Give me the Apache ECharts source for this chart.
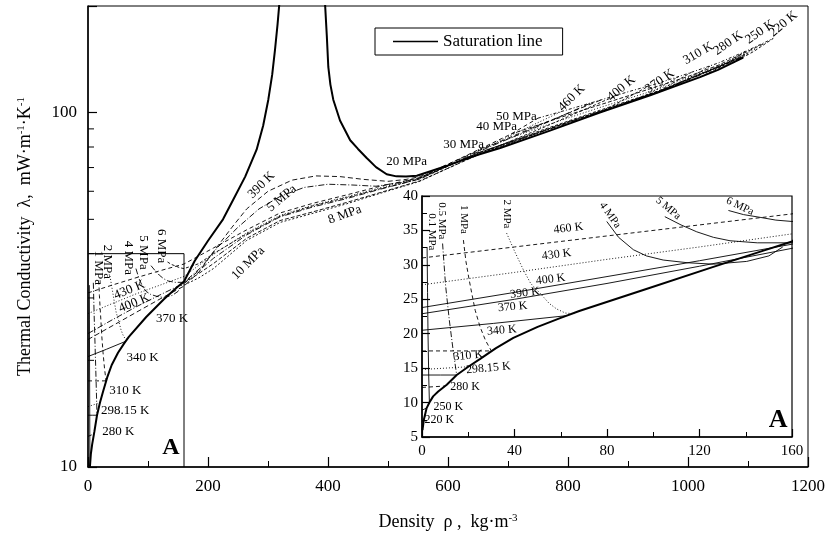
<!DOCTYPE html>
<html><head><meta charset="utf-8">
<script src="https://cdn.jsdelivr.net/npm/echarts@6/dist/echarts.min.js"></script>
<style>html,body{margin:0;padding:0;background:#fff}#c{width:831px;height:538px}</style>
</head><body><div id="c"></div>
<script>
// ---------- data (density kg/m3, conductivity mW/m/K) ----------
const satVapor = [[0.2,6],[0.8,7.5],[2,9.2],[3.2,10.0],[4.8,10.9],[7,11.6],[10.7,12.6],[15,14.0],[20,15.2],[25,16.3],[32,17.9],[39.5,19.4],[50,21.0],[60,22.3],[68,23.3],[97,26.5],[126,29.7],[148,32.1],[160,33.4],[178,38.2],[200,43.5],[225,50],[242,56.8],[262,66],[281,78.6],[292,92],[300.5,108.8],[307,128],[311.7,150.6],[316,178],[319,204]];
const satLiquid = [[395,204],[398,165],[400.5,134.6],[404,120],[408.8,108.8],[420,95],[437,83.6],[450,79],[464.5,74.5],[480,70.2],[497.8,67],[514,66.1],[530,66],[548,66.4],[600,71],[650,76.1],[687,79.5],[770,89],[853,100],[937,112],[1020,126],[1050,132],[1092,143]];

const T220v = [[0,7.2],[0.8,7.5]];
const T250v = [[0,8.9],[2,9.2]];
const T280v = [[0,12.2],[5,12.3],[10,12.4]];
const T298v = [[0,14.0],[8,14.0],[15,14.0]];
const T310v = [[0,14.8],[10,15.0],[20,15.2]];
const T340v = [[0,17.5],[15,17.5],[30,17.5]];
const T370v = [[0,20.5],[31,21.5],[62,22.6]];
const T390 = [[0,22.9],[40,25.0],[80,27.3],[120,29.8],[160,32.4],[185,35.5],[209,40.5],[240,47.5],[264.5,53.5],[300,60],[340,64.5],[380,66.3],[420,66],[460,64.8],[500,64],[530,64.8],[553,66],[650,78],[750,92],[855,108.6]];
const T400 = [[0,23.8],[40,26.0],[80,28.3],[120,30.6],[160,33.0],[209,38.8],[264.5,45.2],[320,50.8],[375,54.2],[431,57.2],[487,60.8],[553,65],[650,77.5],[750,91.5],[840,106.8]];
const T430 = [[0,27.1],[40,28.9],[80,30.8],[120,32.6],[160,34.5],[209,39.8],[264.5,45.8],[320,51.3],[375,54.8],[431,57.9],[487,61.4],[553,65.3],[650,78],[790,100.9]];
const T460 = [[0,31],[40,32.6],[80,34.2],[120,35.8],[160,37.4],[209,41.5],[264.5,46.7],[320,52.1],[375,55.5],[431,58.6],[487,62],[553,65.5],[650,78.5],[705,87],[750,96.5]];
const T370l = [[650,76.1],[760,91],[885,112.6]];
const T340l = [[790,91.6],[860,101.5],[935,119]];
const T310l = [[880,103.9],[935,113],[985,126.6]];
const T298l = [[905,107.4],[955,116],[1005,129.8]];
const T280l = [[950,114.2],[995,123.5],[1040,136.2]];
const T250l = [[1020,126],[1060,136],[1095,148.8]];
const T220l = [[1075,138.2],[1110,149],[1142,162]];

const P01 = [[2.2,32.6],[2.4,26],[2.6,20],[2.9,14],[3.2,10.0]];
const P05 = [[8.9,33.1],[10.2,27],[11.8,22],[13.5,17.5],[15,14.0]];
const P1 = [[17.9,33.6],[19,30.5],[20.3,28],[21.5,25.9],[23,23.4],[25.1,21],[27.5,19],[30,17.5]];
const P2 = [[36.6,34.6],[40,32],[43.8,29.3],[47,27.3],[51,25.9],[55,24.4],[58.2,23.6],[62,23.0],[66,22.9]];
const P4 = [[79.9,36.3],[85,34],[91.4,32.2],[97,31.3],[104.3,30.7],[115,30.3],[126,30.1],[140.4,30.5],[150,31.3],[156,32.6]];
const P5 = [[105,37],[112,35.8],[118.8,34.8],[126,34],[133.2,33.5],[145,33.2],[160,33.2],[190,36.8],[215,41.5],[250,47.5],[285,53.5],[320,58],[360,61.5],[400,62.8],[440,62.5],[480,62],[520,63.5],[553,65.5],[650,77],[800,93.5],[950,114],[1092,143.5]];
const P6 = [[132.5,37.9],[139,37.3],[146.2,36.9],[153,36.5],[160,36.3],[185,37.5],[209,40],[264.5,45.5],[320,51],[375,54.6],[431,57.6],[487,61],[553,65],[650,77],[800,94],[950,114.5],[1092,144]];
const P8 = [[160,33.0],[185,35.2],[209,37.5],[264.5,44.2],[320,49.6],[375,52.5],[431,55.8],[487,59.5],[553,64.2],[650,76],[800,94],[950,114.3],[1092,144]];
const P10 = [[160,32.6],[185,34.2],[209,36.3],[264.5,43.6],[320,49],[375,52],[431,55.3],[487,59.2],[553,64],[650,76.3],[800,94.2],[950,114.6],[1100,146.5]];
const P20 = [[553,65.5],[650,76.8],[750,88.5],[850,101.2],[950,115],[1050,134.5],[1100,147.5]];
const P30 = [[650,78.5],[750,90.5],[850,103],[950,116.5],[1050,135],[1115,152]];
const P40 = [[705,87],[800,98.5],[900,111.5],[1000,126.5],[1050,136],[1128,157]];
const P50 = [[750,96.5],[800,102],[850,108],[900,114.5],[950,121],[1000,129],[1050,138],[1100,150],[1142,162]];

const boxA = [[0,40],[160,40],[160,10]];
const yMinorTicksMain = [20,30,40,50,60,70,80,90];

// [text, x, y, rotationDeg, fontSize, bold]
const mainLabels = [
 ['390 K',289,62.5,45,13],['5 MPa',323,57.3,40,13],['8 MPa',428,51.5,20,13],['10 MPa',267,37.6,45,13],
 ['20 MPa',531,72.7,0,13],['30 MPa',626,81.2,0,13],['40 MPa',681,91.5,0,13],['50 MPa',714,97.2,0,13],
 ['460 K',806,110,45,13],['400 K',889,117,40,13],['370 K',953,122.6,35,13],['310 K',1017,147,30,13],
 ['280 K',1067,157,35,13],['250 K',1120,169,35,13],['220 K',1159,178,40,13],
 ['1 MPa',16.7,36.5,-90,13],['2 MPa',33,37.9,-90,13],['4 MPa',66.7,38.9,-90,13],['5 MPa',91.7,40.3,-90,13],['6 MPa',121.7,42.0,-90,13],
 ['430 K',69,31.6,22,13],['400 K',77,29.0,22,13],['370 K',140,26.2,0,13],['340 K',91,20.4,0,13],
 ['310 K',62,16.4,0,13],['298.15 K',62,14.4,0,13],['280 K',50.5,12.6,0,13],['A',138,11.3,0,24,true]
];
const insetLabels = [
 ['460 K',63.3,35.3,7,12],['430 K',58.2,31.5,7,12],['400 K',55.6,27.9,7,12],['390 K',44.5,25.9,7,12],
 ['370 K',39.2,23.9,5,12],['340 K',34.5,20.5,5,12],['310 K',20,16.8,5,12],['298.15 K',28.7,15,5,12],
 ['280 K',18.6,12.3,0,12],['250 K',11.4,9.4,0,12],['220 K',7.5,7.5,0,12],
 ['0.1 MPa',4.2,34.8,-90,11],['0.5 MPa',8.5,36.4,-90,11],['1 MPa',17.9,36.6,-90,11],['2 MPa',36.6,37.4,-90,11],
 ['4 MPa',81.3,37.2,-55,11],['5 MPa',106.5,38.2,-40,11],['6 MPa',137.5,38.5,-25,11],['A',154,7.5,0,26,true]
];

// ---------- chart ----------
const FONT = 'Liberation Serif';
const DD = [6,2,1,2];
const curves = [
 {d:T460, m:[4,3], i:[4,3]}, {d:T430, m:[1,2], i:[1,2]}, {d:T400, m:DD, i:'solid'}, {d:T390, m:[5,3], i:'solid'},
 {d:T370v, m:'solid', i:'solid'}, {d:T340v, m:[4,3], i:[4,3]}, {d:T310v, m:[1,2], i:[1,2]}, {d:T298v, m:'solid', i:'solid'},
 {d:T280v, m:[4,3], i:[4,3]}, {d:T250v, m:'solid', i:'solid'}, {d:T220v, m:'solid', i:'solid'},
 {d:T370l, m:[3,2]}, {d:T340l, m:[3,2]}, {d:T310l, m:[2,2]}, {d:T298l, m:[3,2]}, {d:T280l, m:[2,2]}, {d:T250l, m:[3,2]}, {d:T220l, m:[3,2]},
 {d:P01, m:'solid', i:'solid'}, {d:P05, m:DD, i:DD}, {d:P1, m:[4,3], i:[4,3]}, {d:P2, m:[1,2], i:[1,2]},
 {d:P4, m:DD, i:'solid'}, {d:P5, m:DD, i:'solid'}, {d:P6, m:[3,2], i:'solid'}, {d:P8, m:[4,2]}, {d:P10, m:[2,2]},
 {d:P20, m:[3,2]}, {d:P30, m:[1,2]}, {d:P40, m:[4,2]}, {d:P50, m:[3,2,1,2]}
];

const series = [];
curves.forEach(c => {
  series.push({type:'line', xAxisIndex:0, yAxisIndex:0, data:c.d, symbol:'none', silent:true, z:2,
    lineStyle:{color:'#000', width:0.9, type:c.m}});
  if (c.i) series.push({type:'line', xAxisIndex:1, yAxisIndex:1, data:c.d, symbol:'none', silent:true, z:13,
    lineStyle:{color:'#000', width:0.9, type:c.i}});
});
// saturation lines
[[0,0,3],[1,1,14]].forEach(([xi,yi,z]) => {
  [satVapor, satLiquid].forEach(d => series.push({type:'line', name:'Saturation line', xAxisIndex:xi, yAxisIndex:yi, data:d,
    symbol:'none', silent:true, z:z, lineStyle:{color:'#000', width:2}, itemStyle:{color:'#000'}}));
});
// box A
series.push({type:'line', xAxisIndex:0, yAxisIndex:0, data:boxA, symbol:'none', silent:true, z:3, lineStyle:{color:'#000', width:1}});
// minor ticks on main log axis
series.push({type:'custom', xAxisIndex:0, yAxisIndex:0, silent:true, z:4, clip:false,
  data: yMinorTicksMain.map(v => [0, v]),
  renderItem: (p, api) => { const c = api.coord([api.value(0), api.value(1)]);
    return {type:'line', shape:{x1:c[0], y1:c[1], x2:c[0]+6, y2:c[1]}, style:{stroke:'#000', lineWidth:1}}; }});
function labelSeries(list, ai, z) {
  return {type:'custom', xAxisIndex:ai, yAxisIndex:ai, silent:true, z:z, clip:false,
    data: list.map(l => [l[1], l[2]]),
    renderItem: (p, api) => { const l = list[p.dataIndex]; const c = api.coord([api.value(0), api.value(1)]);
      return {type:'text', x:c[0], y:c[1], rotation:(l[3]||0)*Math.PI/180,
        style:{text:l[0], fill:'#000', font:(l[5]?'bold ':'')+l[4]+'px "'+FONT+'"', align:'center', verticalAlign:'middle'}}; }};
}
series.push(labelSeries(mainLabels, 0, 5));
series.push(labelSeries(insetLabels, 1, 15));

const chart = echarts.init(document.getElementById('c'), null, {renderer:'canvas'});
chart.setOption({
  animation:false, backgroundColor:'#fff',
  textStyle:{fontFamily:FONT, color:'#000'},
  legend:{data:['Saturation line'], left:375, top:28, padding:[5,20,5,18], itemWidth:45, itemHeight:1.6, icon:'rect',
    itemStyle:{color:'#000'}, borderColor:'#000', borderWidth:1, backgroundColor:'#fff', selectedMode:false,
    textStyle:{fontFamily:FONT, fontSize:17, color:'#000', lineHeight:17}},
  grid:[
    {left:88, top:6, width:720, height:461, show:true, borderColor:'#000', borderWidth:1, outerBoundsMode:'none', containLabel:false},
    {left:422, top:196, width:370, height:241, show:true, backgroundColor:'#fff', borderColor:'#000', borderWidth:1.2, z:10, outerBoundsMode:'none', containLabel:false}
  ],
  xAxis:[
    {type:'value', gridIndex:0, min:0, max:1200, interval:200, splitLine:{show:false},
     axisLine:{lineStyle:{color:'#000', width:1.5}}, axisTick:{inside:true, length:10, lineStyle:{color:'#000', width:1.2}},
     minorTick:{show:true, splitNumber:2, length:6, lineStyle:{color:'#000', width:1}},
     axisLabel:{fontFamily:FONT, fontSize:17, color:'#000', margin:11, formatter: v => String(v)},
     name:'{a|Density  ρ ,  kg·m}{b|-3}', nameLocation:'middle', nameGap:46,
     nameTextStyle:{rich:{a:{fontFamily:FONT, fontSize:18, color:'#000'}, b:{fontFamily:FONT, fontSize:11, color:'#000', verticalAlign:'top'}}}},
    {type:'value', gridIndex:1, min:0, max:160, interval:40, z:12, splitLine:{show:false},
     axisLine:{lineStyle:{color:'#000', width:1.5}}, axisTick:{inside:true, length:8, lineStyle:{color:'#000', width:1.2}},
     minorTick:{show:true, splitNumber:2, length:5, lineStyle:{color:'#000', width:1}},
     axisLabel:{fontFamily:FONT, fontSize:15, color:'#000', margin:7, formatter: v => String(v)}}
  ],
  yAxis:[
    {type:'log', gridIndex:0, min:10, max:200, logBase:10, splitLine:{show:false},
     axisLine:{lineStyle:{color:'#000', width:1.5}}, axisTick:{inside:true, length:9, lineStyle:{color:'#000', width:1.2}},
     axisLabel:{fontFamily:FONT, fontSize:17, color:'#000', margin:11,
       formatter: v => { const r = Math.round(v); return (r===10||r===100) ? String(r) : ''; }},
     name:'{a|Thermal Conductivity  λ,  mW·m}{b|-1}{a|·K}{b|-1}', nameLocation:'middle', nameGap:54,
     nameTextStyle:{rich:{a:{fontFamily:FONT, fontSize:18, color:'#000'}, b:{fontFamily:FONT, fontSize:11, color:'#000', verticalAlign:'top'}}}},
    {type:'value', gridIndex:1, min:5, max:40, interval:5, z:12, splitLine:{show:false},
     axisLine:{lineStyle:{color:'#000', width:1.5}}, axisTick:{inside:true, length:8, lineStyle:{color:'#000', width:1.2}},
     minorTick:{show:true, splitNumber:2, length:5, lineStyle:{color:'#000', width:1}},
     axisLabel:{fontFamily:FONT, fontSize:15, color:'#000', margin:4}}
  ],
  series: series
});
</script></body></html>
